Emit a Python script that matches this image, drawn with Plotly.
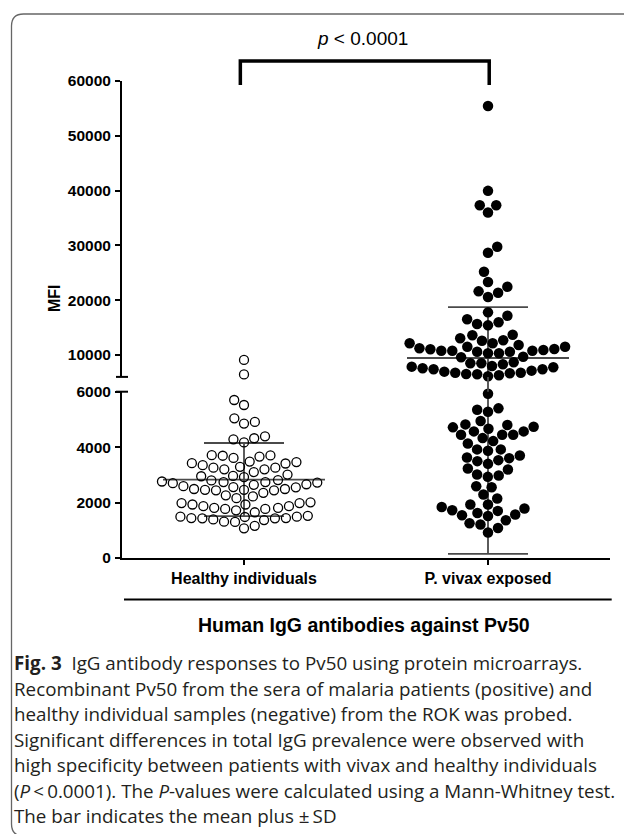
import math
import plotly.graph_objects as go

# ---------------- data ----------------
categories = ["Healthy individuals", "P. vivax exposed"]

healthy_mfi = [
    9090, 6450,
    5700, 5520, 5040, 4910, 4850, 4390, 4320, 4280, 4170,
    3480, 3420, 3350, 3700, 3660, 3610, 3690, 3710,
    3260, 3200, 3100, 3200, 3260, 3290, 3410, 3460,
    3010, 2950,
    2920, 2800, 2740, 2720, 2660, 2960, 2640, 2560, 2700, 2740, 2760, 2810,
    2590, 2550, 2490, 2460, 2440, 2260, 2160, 2220, 2350, 2440, 2460, 2490,
    1980, 1930, 1870, 1810, 1770, 1720, 1650, 1770, 1810, 1870, 1930, 1980, 2010,
    1490, 1480, 1430, 1440, 1370, 1300, 1070, 1160, 1310, 1390, 1430, 1440, 1490, 1520,
]

vivax_mfi = [
    55440, 39950, 37340, 37340, 36010, 29740, 28650, 25180, 22450, 23310,
    21360, 20570, 21610, 17780, 16510, 15650, 15410, 15960, 17160, 13700, 13590,
    12680, 12130, 10780, 11820, 10780, 11510, 10600, 11220, 10310, 10910,
    9580, 11040, 8670, 9690, 11090, 10310, 11510, 10600, 12130, 10780, 12610, 13040,
    8490, 7870, 7580, 7390, 7140, 6770, 6540, 6300, 6120,
    6480, 6660, 6770, 6960, 7390, 7760, 7990, 8300, 8490,
    5927, 5399, 5277, 5349, 4940, 4796, 4713, 4662, 4734, 4821,
    4568, 4445, 4326, 4134, 4217, 4445, 4445, 4568,
    3918, 3701, 3495, 3603, 3231, 3531, 3629, 3397, 3867, 3918,
    2978, 3014, 3195, 2927, 2591, 2555, 2291, 2147, 1930, 1930,
    1785, 1699, 1568, 1518, 1362, 1543, 1626, 1724, 1843,
    1207, 1254, 1084, 918,
]

group_mean = [2830, 9450]
group_sd = [1320, 9300]

lower_ticks = [0, 2000, 4000, 6000]
upper_ticks = [10000, 20000, 30000, 40000, 50000, 60000]
BREAK = 6000
Y_MAX = 60000
p_text = "<i>p</i> < 0.0001"
y_title = "MFI"
x_title = "Human IgG antibodies against Pv50"
caption_lines = [
    "<b>Fig. 3</b>  IgG antibody responses to Pv50 using protein microarrays.",
    "Recombinant Pv50 from the sera of malaria patients (positive) and",
    "healthy individual samples (negative) from the ROK was probed.",
    "Significant differences in total IgG prevalence were observed with",
    "high specificity between patients with vivax and healthy individuals",
    "(<i>P</i>\u2009<\u20090.0001). The <i>P</i>-values were calculated using a Mann-Whitney test.",
    "The bar indicates the mean plus \u00b1\u2009SD",
]

# ---------------- geometry ----------------
W, H = 624, 834
ML, MR, MT, MB = 122, 14, 81, 276
PW, PH = W - ML - MR, H - MT - MB
XR = [0.5, 2.5]


def px_x(px):
    return (px - ML) / PW


def px_y(py):
    return (H - MB - py) / PH


LOW_DOM = [0.0, px_y(391.7)]
UP_DOM = [px_y(376.9), 1.0]


def ypix(v):
    if v < BREAK:
        frac = LOW_DOM[0] + v / BREAK * (LOW_DOM[1] - LOW_DOM[0])
    else:
        frac = UP_DOM[0] + (v - BREAK) / (Y_MAX - BREAK) * (UP_DOM[1] - UP_DOM[0])
    return (H - MB) - frac * PH


def data_to_paper_x(x):
    return (x - XR[0]) / (XR[1] - XR[0])


PX_PER_X = PW / (XR[1] - XR[0])


def swarm_offsets(vals, d):
    ys = [ypix(v) for v in vals]
    n = len(ys)
    order = sorted(range(n), key=lambda i: -ys[i])
    xs = [0.0] * n
    placed = []
    side = 1
    for i in order:
        y = ys[i]
        near = [(px, py) for (px, py) in placed if abs(py - y) < d]
        cands = [0.0]
        for px, py in near:
            dx = math.sqrt(d * d - (py - y) ** 2)
            cands.extend([px + dx, px - dx])
        ok = [c for c in cands
              if all((c - px) ** 2 + (py - y) ** 2 >= d * d - 1e-6 for px, py in near)]
        babs = min(abs(c) for c in ok)
        best = sorted(set(round(c, 6) for c in ok if abs(abs(c) - babs) < 1e-6))
        if len(best) > 1:
            c = best[-1] if side > 0 else best[0]
            side = -side
        else:
            c = best[0]
        xs[i] = c
        placed.append((c, y))
    return xs


fig = go.Figure()

# ---------------- mean / SD bars ----------------
LINE_C = "#4a4a4a"
MEAN_HALF = 81 / PX_PER_X
SD_HALF = 40 / PX_PER_X


def axis_for(v):
    return "y" if v < BREAK else "y2"


for gi, (m, s) in enumerate(zip(group_mean, group_sd)):
    xc = gi + 1
    lo, hi = m - s, m + s
    for x0, x1, v in [(xc - MEAN_HALF, xc + MEAN_HALF, m),
                      (xc - SD_HALF, xc + SD_HALF, hi),
                      (xc - SD_HALF, xc + SD_HALF, lo)]:
        fig.add_trace(go.Scatter(x=[x0, x1], y=[v, v], mode="lines", yaxis=axis_for(v),
                                 line=dict(color=LINE_C, width=1.8), hoverinfo="skip",
                                 showlegend=False, cliponaxis=False))
    if axis_for(lo) == axis_for(hi):
        fig.add_trace(go.Scatter(x=[xc, xc], y=[lo, hi], mode="lines", yaxis=axis_for(lo),
                                 line=dict(color=LINE_C, width=1.8), hoverinfo="skip",
                                 showlegend=False))
    else:
        fig.add_trace(go.Scatter(x=[xc, xc], y=[lo, BREAK], mode="lines", yaxis="y",
                                 line=dict(color=LINE_C, width=1.8), hoverinfo="skip",
                                 showlegend=False))
        fig.add_trace(go.Scatter(x=[xc, xc], y=[BREAK, hi], mode="lines", yaxis="y2",
                                 line=dict(color=LINE_C, width=1.8), hoverinfo="skip",
                                 showlegend=False))
        fig.add_shape(type="line", xref="paper", yref="paper",
                      x0=data_to_paper_x(xc), x1=data_to_paper_x(xc),
                      y0=LOW_DOM[1], y1=UP_DOM[0], line=dict(color=LINE_C, width=1.8))

# ---------------- points ----------------
styles = [
    dict(symbol="circle-open", size=9, color="black", line=dict(width=1.3, color="black")),
    dict(symbol="circle", size=10.5, color="black", line=dict(width=0)),
]
gaps = [11.0, 11.0]
for gi, vals in enumerate([healthy_mfi, vivax_mfi]):
    offs = swarm_offsets(vals, gaps[gi])
    xs = [gi + 1 + o / PX_PER_X for o in offs]
    for ax, test in [("y", lambda v: v < BREAK), ("y2", lambda v: v >= BREAK)]:
        sx = [x for x, v in zip(xs, vals) if test(v)]
        sy = [v for v in vals if test(v)]
        fig.add_trace(go.Scatter(x=sx, y=sy, mode="markers", yaxis=ax, marker=styles[gi],
                                 cliponaxis=False, showlegend=False, name=categories[gi]))

# ---------------- axes ----------------
AX_FONT = "Liberation Sans, Arial, sans-serif"
common = dict(showline=True, linewidth=2, linecolor="black", ticks="outside", ticklen=5,
              tickwidth=2, tickcolor="black", showgrid=False, zeroline=False)
fig.update_layout(
    width=W, height=H, margin=dict(l=ML, r=MR, t=MT, b=MB, autoexpand=False),
    plot_bgcolor="white", paper_bgcolor="white",
    xaxis=dict(range=XR, tickvals=[1, 2], ticktext=categories, anchor="y",
               tickfont=dict(family=AX_FONT, size=16, color="black", weight="bold"), **common),
    yaxis=dict(domain=LOW_DOM, range=[0, BREAK], tickvals=lower_ticks,
               ticktext=[str(t) for t in lower_ticks], anchor="x", ticklabelstandoff=1,
               tickfont=dict(family=AX_FONT, size=15.5, color="black", weight="bold"), **common),
    yaxis2=dict(domain=UP_DOM, range=[BREAK, Y_MAX], tickvals=upper_ticks,
                ticktext=[str(t) for t in upper_ticks], anchor="x", ticklabelstandoff=1,
                tickfont=dict(family=AX_FONT, size=15.5, color="black", weight="bold"), **common),
)

# axis break caps
for yb in [LOW_DOM[1], UP_DOM[0]]:
    fig.add_shape(type="line", xref="paper", yref="paper", x0=px_x(116), x1=px_x(128),
                  y0=yb, y1=yb, line=dict(color="black", width=2))

# significance bracket
bx0, bx1 = data_to_paper_x(0.985), data_to_paper_x(2.005)
byt, byb = px_y(61), px_y(85)
fig.add_shape(type="path", xref="paper", yref="paper",
              path=f"M {bx0},{byb} L {bx0},{byt} L {bx1},{byt} L {bx1},{byb}",
              line=dict(color="black", width=3.5))
fig.add_annotation(text=p_text, xref="paper", yref="paper", x=px_x(362.7), y=px_y(38.5),
                   showarrow=False, xanchor="center", yanchor="middle",
                   font=dict(family=AX_FONT, size=19, color="black"))

# y title
fig.add_annotation(text=f"<b>{y_title}</b>", xref="paper", yref="paper", x=px_x(54), y=px_y(298),
                   showarrow=False, textangle=-90, xanchor="center", yanchor="middle",
                   font=dict(family=AX_FONT, size=16, color="black"))

# grouping line and x title
fig.add_shape(type="line", xref="paper", yref="paper", x0=px_x(124), x1=px_x(611.7),
              y0=px_y(599.5), y1=px_y(599.5), line=dict(color="black", width=2))
fig.add_annotation(text=f"<b>{x_title}</b>", xref="paper", yref="paper", x=px_x(364), y=px_y(625),
                   showarrow=False, xanchor="center", yanchor="middle",
                   font=dict(family=AX_FONT, size=19.5, color="black"))

# frame
fx0, fx1 = px_x(11.5), px_x(650)
fr = 12
fy_top, fy_bot = 14, 836
frame_path = (f"M {fx1},{px_y(fy_top)} L {px_x(11.5 + fr)},{px_y(fy_top)} "
              f"Q {fx0},{px_y(fy_top)} {fx0},{px_y(fy_top + fr)} "
              f"L {fx0},{px_y(fy_bot - fr)} Q {fx0},{px_y(fy_bot)} {px_x(11.5 + fr)},{px_y(fy_bot)} "
              f"L {fx1},{px_y(fy_bot)}")
fig.add_shape(type="path", xref="paper", yref="paper", path=frame_path,
              line=dict(color="#666666", width=1.3))

# caption
for k, line in enumerate(caption_lines):
    fig.add_annotation(text=line, xref="paper", yref="paper", x=px_x(12), y=px_y(663 + 25.5 * k),
                       showarrow=False, xanchor="left", yanchor="middle",
                       font=dict(family="Open Sans", size=18.8, color="#231f20"))

fig.write_html("out.html", config={"displayModeBar": False},
               post_script="document.body.style.margin='0';document.body.style.overflow='hidden';")
